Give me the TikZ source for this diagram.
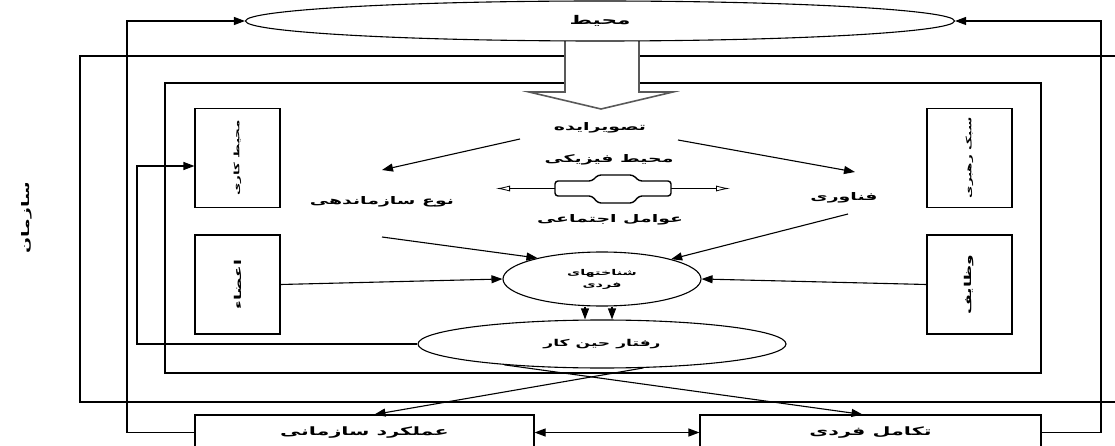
\documentclass[tikz,border=0pt]{standalone}
\usepackage{fontspec}
\usetikzlibrary{arrows.meta,shapes.geometric,calc}
\TeXXeTstate=1
\newfontfamily\arabicfont[Script=Arabic,FakeStretch=1.8]{DejaVu Sans Bold}
\newcommand{\ptxt}[1]{{\arabicfont\beginR #1\endR}}
\begin{document}
\begin{tikzpicture}[x=1pt,y=-1pt,line width=1.1pt,
  arr/.style={-{Triangle[length=11pt,width=8pt]}},
  dblarr/.style={{Triangle[length=11pt,width=8pt]}-{Triangle[length=11pt,width=8pt]}},
  openarr/.style={-{Latex[open,length=14pt,width=6pt]},line width=0.8pt},
  sidebox/.style={draw,minimum width=85pt,minimum height=99pt,inner sep=0pt,font=\fontsize{7.5}{9}\selectfont},
  outbox/.style={draw,fill=white,minimum height=35pt,inner sep=0pt,font=\fontsize{11.5}{13}\selectfont},
  lbl/.style={inner sep=1pt,font=\fontsize{10.5}{12}\selectfont},
  oval/.style={ellipse,draw,fill=white,inner sep=0pt},
]
\useasboundingbox (0,0) rectangle (1115,446);
\clip (0,0) rectangle (1115,446);
% frames
\draw (80,56) rectangle (1135,402);
\draw (165,83) rectangle (1041,373);
% big block arrow from the environment
\draw[draw=black!65,line width=1.6pt,fill=white,line join=miter]
  (565,30) -- (565,92) -- (529,92) -- (601,109) -- (673,92) -- (639,92) -- (639,30);
% environment
\node[oval,minimum width=709pt,minimum height=40pt,font=\fontsize{12}{14}\selectfont] (env) at (600,21) {\ptxt{محیط}};
% feedback guide coordinates
\coordinate (fbL) at (127,0);
\coordinate (fbR) at (1101,0);
\coordinate (fbI) at (137,0);
% organisation label
\node[rotate=90,lbl] (orglbl) at (27,218) {\ptxt{سازمان}};
% side boxes
\node[sidebox] (work) at (237.5,158) {\rotatebox{90}{\ptxt{محیط کاری}}};
\node[sidebox,font=\fontsize{9.5}{11}\selectfont] (members) at (237.5,284.5) {\rotatebox{90}{\ptxt{اعضاء}}};
\node[sidebox] (lead) at (969.5,158) {\rotatebox{90}{\ptxt{سبک رهبری}}};
\node[sidebox,font=\fontsize{9.5}{11}\selectfont] (tasks) at (969.5,284.5) {\rotatebox{90}{\ptxt{وظایف}}};
% centre texts
\node[lbl] (img) at (600,128) {\ptxt{تصویرایده}};
\node[lbl] (phys) at (609,160) {\ptxt{محیط فیزیکی}};
\node[lbl] (soc) at (610,220) {\ptxt{عوامل اجتماعی}};
\node[lbl] (orgtype) at (382,202) {\ptxt{نوع سازماندهی}};
\node[lbl] (tech) at (844,198) {\ptxt{فناوری}};
% double arrow symbol
\draw[openarr] (555,188.5) -- (496,188.5);
\draw[openarr] (671,188.5) -- (730,188.5);
\draw[line width=1.4pt,fill=white,rounded corners=3pt]
  (555,181) -- (592,181) -- (598,175) -- (633,175) -- (639,181) -- (671,181)
  -- (671,196) -- (639,196) -- (633,203) -- (598,203) -- (592,196) -- (555,196) -- cycle;
% ellipses
\node[oval,minimum width=198pt,minimum height=54pt,align=center,font=\fontsize{8}{9}\selectfont] (cog) at (602,279) {\ptxt{شناختهای}\\[3pt]\ptxt{فردی}};
\node[oval,minimum width=368pt,minimum height=48pt,font=\fontsize{9.5}{11}\selectfont] (beh) at (602,344) {\ptxt{رفتار حین کار}};
% outcome boxes
\node[outbox,minimum width=339pt] (perf) at (364.5,432.5) {\ptxt{عملکرد سازمانی}};
\node[outbox,minimum width=341pt] (dev) at (870.5,432.5) {\ptxt{تکامل فردی}};
% arrows
\draw[arr] ([shift={(-80,11)}]img.center) -- ([shift={(0,-32)}]orgtype.center);
\draw[arr] ([shift={(78,12)}]img.center) -- ([shift={(11,-26)}]tech.center);
\draw[arr] ([shift={(0,35)}]orgtype.center) -- (cog.162);
\draw[arr] ([shift={(4,16)}]tech.center) -- (cog.16);
\draw[arr] (members.east) -- (cog.west);
\draw[arr] (tasks.west) -- (cog.east);
\draw[arr] ([xshift=-17pt]cog.south) -- ([xshift=-17pt]beh.north);
\draw[arr] ([xshift=10pt]cog.south) -- ([xshift=10pt]beh.north);
\draw[arr] (beh.330) -- ([xshift=10pt]perf.north);
\draw[arr] (beh.192) -- ([xshift=-8pt]dev.north);
\draw[dblarr] (perf.east) -- (dev.west);
% feedback loops
\draw[arr] (beh.west) -- (beh.west -| fbI) |- ([yshift=-8pt]work.west);
\draw[arr] (perf.west) -- (perf.west -| fbL) |- (env.west);
\draw[arr] (dev.east) -- (dev.east -| fbR) |- (env.east);
\end{tikzpicture}
\end{document}
